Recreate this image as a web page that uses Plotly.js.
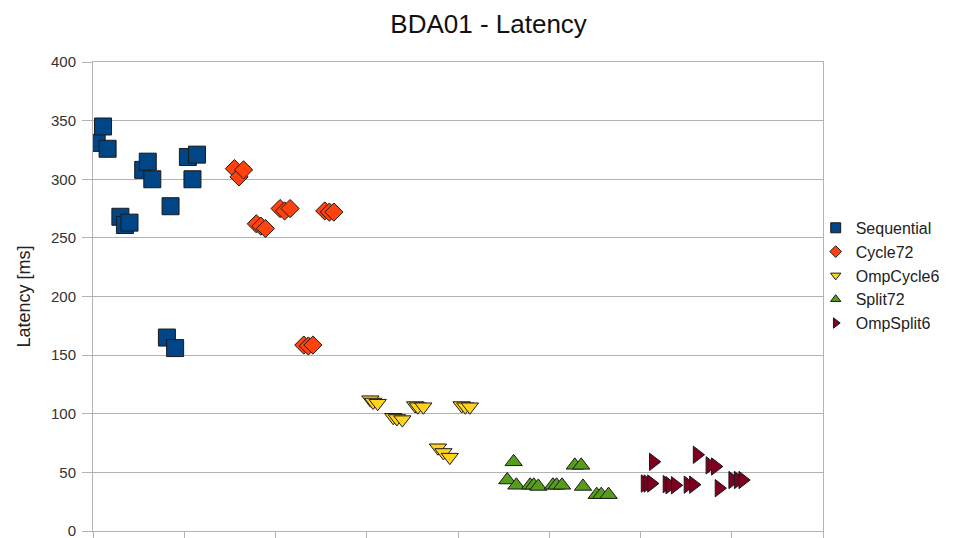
<!DOCTYPE html>
<html>
<head>
<meta charset="utf-8">
<script src="https://cdn.plot.ly/plotly-3.0.1.min.js"></script>
<style>html,body{margin:0;padding:0;background:#fff;}#chart{width:958px;height:538px;}</style>
</head>
<body>
<div id="chart"></div>
<script>
const seriesNames = ["Sequential", "Cycle72", "OmpCycle6", "Split72", "OmpSplit6"];

const seqX = [0.04, 0.11, 0.16, 0.30, 0.35, 0.40, 0.55, 0.60, 0.65, 0.85, 0.81, 0.90, 1.04, 1.14, 1.09];
const seqY = [331, 345, 326, 268, 261, 263, 308, 315, 300, 277, 165, 156, 319, 321, 300];

const cycX = [1.55, 1.60, 1.65, 1.79, 1.84, 1.89, 2.05, 2.10, 2.16, 2.54, 2.59, 2.64, 2.31, 2.36, 2.41];
const cycY = [309, 302, 308, 262, 260, 258, 275, 273, 275, 273, 272, 272, 158.6, 157.8, 158.6];

const ompCycX = [3.04, 3.07, 3.12, 3.29, 3.33, 3.39, 3.53, 3.56, 3.62, 3.78, 3.84, 3.91, 4.04, 4.08, 4.13];
const ompCycY = [112, 110, 109, 97, 96, 95, 107, 106, 106, 71, 67, 63, 107, 106, 106];

const splX = [4.61, 4.54, 4.64, 4.79, 4.83, 4.88, 5.04, 5.08, 5.14, 5.28, 5.35, 5.37, 5.52, 5.57, 5.65];
const splY = [59, 43.5, 39, 39, 39, 38, 39, 39, 39, 56, 56, 38, 31, 31, 31];

const ompSplX = [6.14, 6.62, 6.76, 6.82, 6.05, 6.08, 6.12, 6.29, 6.32, 6.38, 6.52, 6.58, 6.86, 7.01, 7.07, 7.12];
const ompSplY = [59, 65, 56, 55, 40.5, 40.5, 40.5, 40, 39, 39, 39.5, 39.5, 36.5, 43.5, 43.5, 43.5];

const colors = ["#004586", "#ff420e", "#ffd320", "#579d1c", "#7e0021"];
const symbols = ["square", "diamond", "triangle-down", "triangle-up", "triangle-right"];
const sizes = [17, 14, 15, 15, 15];
const legendSizes = [10, 9, 9, 9, 9];
const xs = [seqX, cycX, ompCycX, splX, ompSplX];
const ys = [seqY, cycY, ompCycY, splY, ompSplY];

const traces = seriesNames.map((n, i) => ({
  type: "scatter",
  mode: "markers",
  name: n,
  x: xs[i],
  y: ys[i],
  showlegend: false,
  marker: {symbol: symbols[i], color: colors[i], size: sizes[i], line: {color: "#1a1a1a", width: 1}}
}));

// legend-only entries with small symbols, as in the reference
const legendTraces = seriesNames.map((n, i) => ({
  type: "scatter",
  mode: "markers",
  name: n,
  x: [null],
  y: [null],
  showlegend: true,
  marker: {symbol: symbols[i], color: colors[i], size: legendSizes[i], line: {color: "#1a1a1a", width: 1}}
}));

const layout = {
  width: 958, height: 538,
  margin: {l: 93, r: 135, t: 62, b: 7},
  paper_bgcolor: "#fff", plot_bgcolor: "#fff",
  font: {family: "Liberation Sans, Arial, sans-serif", color: "#333"},
  title: {text: "BDA01 - Latency", x: 0.51, xanchor: "center", y: 0.955, yanchor: "middle",
          font: {size: 26, color: "#111", family: "Liberation Sans, Arial, sans-serif"}},
  showlegend: true,
  legend: {x: 0.99, xanchor: "left", y: 0.545, yanchor: "middle", traceorder: "normal",
           font: {size: 16, color: "#222"}, itemwidth: 30, bgcolor: "rgba(0,0,0,0)"},
  xaxis: {range: [0, 8], dtick: 1, tick0: 0, showgrid: false, zeroline: false,
          showline: true, linecolor: "#b3b3b3", mirror: true, ticks: "outside", ticklen: 7, tickcolor: "#b3b3b3",
          showticklabels: false, fixedrange: true},
  yaxis: {range: [0, 400], dtick: 50, tick0: 0, showgrid: true, gridcolor: "#b3b3b3", zeroline: false,
          showline: true, linecolor: "#b3b3b3", mirror: true, ticks: "outside", ticklen: 10, tickcolor: "#b3b3b3",
          ticklabeloverflow: "allow", ticklabelstandoff: 3,
          tickfont: {size: 15, color: "#333"},
          title: {text: "Latency [ms]", font: {size: 18, color: "#222"}, standoff: 15}}
};

Plotly.newPlot("chart", traces.concat(legendTraces), layout, {displayModeBar: false, staticPlot: true});
</script>
</body>
</html>
